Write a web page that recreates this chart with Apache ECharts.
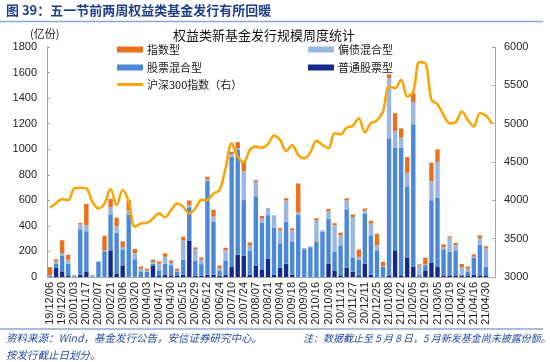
<!DOCTYPE html>
<html><head><meta charset="utf-8">
<script src="https://cdn.jsdelivr.net/npm/echarts@6/dist/echarts.min.js"></script>
<style>html,body{margin:0;padding:0;background:#fff}#c{width:550px;height:362px}</style>
</head><body><div id="c"></div>
<script>
const categories = ['19/12/06','19/12/13','19/12/20','19/12/27','20/01/03','20/01/10','20/01/17','20/01/23','20/02/07','20/02/14','20/02/21','20/02/28','20/03/06','20/03/13','20/03/20','20/03/27','20/04/03','20/04/10','20/04/17','20/04/24','20/04/30','20/05/08','20/05/15','20/05/22','20/05/29','20/06/05','20/06/12','20/06/19','20/06/24','20/07/03','20/07/10','20/07/17','20/07/24','20/07/31','20/08/07','20/08/14','20/08/21','20/08/28','20/09/04','20/09/11','20/09/18','20/09/25','20/09/30','20/10/09','20/10/16','20/10/23','20/10/30','20/11/06','20/11/13','20/11/20','20/11/27','20/12/04','20/12/11','20/12/18','20/12/25','20/12/31','21/01/08','21/01/15','21/01/22','21/01/29','21/02/05','21/02/10','21/02/19','21/02/26','21/03/05','21/03/12','21/03/19','21/03/26','21/04/02','21/04/09','21/04/16','21/04/23','21/04/30','21/05/07'];
const stockFund = [2,70,39,13,0,18,44,0,0,2,209,24,91,0,3,5,5,86,13,18,13,13,18,282,10,10,18,18,10,18,78,175,165,18,86,60,144,18,73,105,18,0,0,0,0,0,105,47,13,73,42,13,102,18,0,4,13,209,13,152,81,4,52,110,78,13,13,13,10,13,18,13,13,null];
const stockMixed = [10,35,128,91,5,355,314,5,120,200,282,321,120,490,136,34,34,18,40,86,78,26,118,264,118,91,732,413,37,112,863,818,437,186,546,366,340,366,191,327,261,489,217,233,274,353,348,149,235,457,112,123,392,308,209,75,1072,803,999,557,1114,15,40,491,541,204,183,191,8,26,133,240,68,null];
const bondMixed = [3,15,21,31,12,39,47,12,3,8,57,52,24,30,47,26,13,13,50,55,21,10,149,16,91,34,13,44,21,78,21,13,227,42,112,31,52,99,102,167,86,16,10,7,172,13,65,209,78,68,314,21,26,91,39,5,471,131,78,107,173,70,5,149,282,18,112,44,60,26,8,52,146,null];
const indexFund = [62,18,100,39,0,10,167,0,0,112,63,68,44,80,34,18,13,18,18,26,18,16,29,37,13,18,21,52,21,21,18,50,73,24,13,21,3,0,16,18,16,227,0,0,13,0,16,16,21,18,21,58,16,24,91,34,31,139,73,123,71,10,55,144,97,21,10,18,24,16,18,21,13,null];
const hs300 = [3903,3965,4016,4003,4155,4164,4155,3981,3894,3960,4147,3937,4134,3981,3654,3698,3706,3763,3830,3780,3872,3959,3916,3828,3894,4003,4003,4090,4134,4417,4744,4570,4495,4657,4700,4687,4735,4844,4788,4644,4722,4591,4548,4626,4775,4722,4679,4875,4862,4949,4971,5071,4888,5006,5040,5158,5485,5463,5572,5354,5420,5803,5790,5311,5254,5115,5006,5019,5158,5049,4962,5136,5106,4997];

const C = {navy:'#14298C', mid:'#4B88DA', light:'#9AB7E1', orange:'#EC6F1B', line:'#F7A70B'};
const cjk = '"Noto Sans CJK SC", sans-serif';
const lat = '"Liberation Sans", Arial, sans-serif';
const chart = echarts.init(document.getElementById('c'), null, {renderer:'canvas'});
function lg(name, left, top, h){
  return {data:[name], left:left, top:top, padding:0, itemWidth:26, itemHeight:h, icon:'rect', itemGap:4,
    selectedMode:false, textStyle:{fontFamily:cjk, fontSize:11, color:'#222', padding:[0,0,0,-1]}};
}
const barCommon = {type:'bar', stack:'s', barWidth:4.4};
const plain = v => String(v);
chart.setOption({
  animation:false,
  grid:{left:47, right:55, top:47, bottom:85},
  legend:[lg('指数型',117,44,6), lg('偏债混合型',308,44,6), lg('股票混合型',117,62,6), lg('普通股票型',308,62,6), lg('沪深300指数（右）',117,79,3)],
  xAxis:{type:'category', data:categories, boundaryGap:true,
    axisLine:{lineStyle:{color:'#A6A6A6', width:1}}, axisTick:{show:false},
    axisLabel:{rotate:90, interval:1, fontFamily:lat, fontSize:11, color:'#222', margin:5}},
  yAxis:[
    {type:'value', min:0, max:1800, interval:200, splitLine:{show:false},
     axisLine:{show:true, lineStyle:{color:'#A6A6A6'}}, axisTick:{show:true, inside:true, length:3, lineStyle:{color:'#A6A6A6'}},
     axisLabel:{fontFamily:lat, fontSize:11, color:'#222', margin:10, formatter:plain}},
    {type:'value', min:3000, max:6000, interval:500, splitLine:{show:false},
     axisLine:{show:true, lineStyle:{color:'#A6A6A6'}}, axisTick:{show:true, inside:true, length:3, lineStyle:{color:'#A6A6A6'}},
     axisLabel:{fontFamily:lat, fontSize:11, color:'#222', margin:9, formatter:plain}}
  ],
  series:[
    Object.assign({name:'普通股票型', data:stockFund}, barCommon, {itemStyle:{color:C.navy}}),
    Object.assign({name:'股票混合型', data:stockMixed}, barCommon, {itemStyle:{color:C.mid}}),
    Object.assign({name:'偏债混合型', data:bondMixed}, barCommon, {itemStyle:{color:C.light}}),
    Object.assign({name:'指数型', data:indexFund}, barCommon, {itemStyle:{color:C.orange}}),
    {name:'沪深300指数（右）', type:'line', yAxisIndex:1, data:hs300, smooth:0.35, symbol:'none',
     lineStyle:{color:C.line, width:2.6}, itemStyle:{color:C.line}, z:5}
  ],
  graphic:[
    {type:'text', left:6, top:4, style:{text:'图 39：五一节前两周权益类基金发行有所回暖', font:'bold 13px '+cjk, fill:'#1F3F8A'}},
    {type:'line', shape:{x1:0, y1:21.5, x2:543, y2:21.5}, style:{stroke:'#8EA6D2', lineWidth:1.5}},
    {type:'text', left:30, top:28, style:{text:'(亿份)', font:'11px '+cjk, fill:'#222'}},
    {type:'text', x:264, y:35, style:{text:'权益类新基金发行规模周度统计', font:'13px '+cjk, fill:'#111', textAlign:'center', textVerticalAlign:'middle'}},
    {type:'line', shape:{x1:0, y1:329, x2:543, y2:329}, style:{stroke:'#8EA6D2', lineWidth:1.5}},
    {type:'text', left:6, top:333, style:{text:'资料来源：Wind，基金发行公告，安信证券研究中心。', font:'italic 10.5px '+cjk, fill:'#2548A0'}},
    {type:'text', left:303, top:333, style:{text:'注：数据截止至 5 月 8 日，5 月新发基金尚未披露份额。', font:'italic 10px '+cjk, fill:'#2548A0'}},
    {type:'text', left:6, top:350, style:{text:'按发行截止日划分。', font:'italic 10.5px '+cjk, fill:'#2548A0'}}
  ]
});
</script></body></html>
